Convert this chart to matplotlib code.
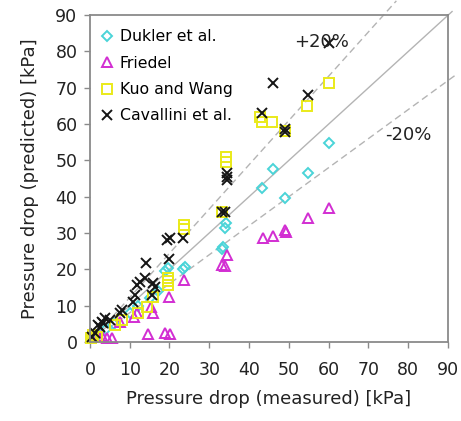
import matplotlib
matplotlib.use("Agg")
import matplotlib.pyplot as plt
import numpy as np

# Predicted vs measured pressure drop [kPa] for four correlations
dukler_x = [60.2, 54.7, 46.1, 43.3, 48.9, 34.0, 34.3, 33.4, 33.2, 23.9, 19.6, 23.5, 18.9,
            2.0, 4.0, 6.0, 10.0, 12.0, 15.0, 17.0]
dukler_y = [54.8, 46.5, 47.6, 42.4, 39.6, 31.4, 32.8, 26.1, 25.6, 20.6, 20.4, 20.0, 19.5,
            2.0, 3.5, 5.0, 8.0, 10.0, 12.0, 14.0]

friedel_x = [60.2, 54.7, 48.9, 49.3, 46.1, 43.5, 34.5, 33.2, 34.0, 23.7, 19.9, 15.4, 15.9,
             11.1, 14.6, 18.9, 20.2, 4.3, 5.5, 7.6, 11.8, 3.0, 2.0]
friedel_y = [36.9, 34.1, 30.8, 30.3, 29.2, 28.6, 24.0, 21.2, 21.0, 17.1, 12.4, 9.6, 8.0,
             6.9, 2.2, 2.5, 2.2, 1.1, 1.1, 5.5, 7.9, 1.5, 1.2]

kuo_x = [60.0, 54.6, 45.8, 43.3, 48.9, 42.8, 34.3, 34.3, 33.2, 23.7, 23.7, 19.6, 19.6, 19.6,
         15.9, 14.4, 12.1, 8.0, 6.3, 1.8, 0.8, 0.3]
kuo_y = [71.3, 65.0, 60.6, 60.6, 58.1, 62.0, 51.0, 49.5, 35.8, 32.2, 31.0, 17.6, 15.7, 16.8,
         12.4, 9.6, 8.0, 6.0, 4.7, 1.4, 1.9, 1.1]

cav_x = [60.2, 46.1, 54.7, 43.3, 49.1, 48.9, 34.5, 34.5, 34.5, 33.2, 34.0, 19.4, 20.2, 23.4,
         14.1, 19.9, 13.9, 12.6, 15.9, 16.4, 11.8, 11.3, 15.6, 10.8, 7.6, 5.0, 3.3, 2.5,
         1.3, 0.5, 8.0, 3.8, 2.0, 3.0]
cav_y = [82.3, 71.3, 68.0, 63.0, 57.8, 58.5, 46.5, 44.6, 45.5, 35.8, 35.8, 28.1, 28.6, 28.6,
         21.7, 22.8, 17.6, 16.5, 16.2, 15.1, 15.7, 12.9, 12.9, 11.0, 8.0, 6.0, 5.2, 4.1,
         2.5, 1.4, 8.8, 6.6, 4.7, 5.5]

ticks = np.arange(0, 91, 10)

fig = plt.figure(figsize=(4.61, 4.21), dpi=100)
ax = fig.add_axes([0.195, 0.188, 0.777, 0.776])

# parity line and +/-20 % bands
line_col = "#b4b4b4"
ax.plot([0, 91], [0, 91], color=line_col, lw=1.0, clip_on=False, zorder=1)
ax.plot([0, 77], [0, 77 * 1.22], color=line_col, lw=1.0, ls=(0, (5, 3)), clip_on=False, zorder=1)
ax.plot([0, 92], [0, 92 * 0.8], color=line_col, lw=1.0, ls=(0, (5, 3)), clip_on=False, zorder=1)

mk = dict(ls="none", markeredgewidth=1.4, fillstyle="none", clip_on=False)
ax.plot(dukler_x, dukler_y, marker="D", color="#4ad4d8", markersize=5.5, label="Dukler et al.", **mk)
ax.plot(friedel_x, friedel_y, marker="^", color="#d22ed2", markersize=7, label="Friedel", **mk)
ax.plot(kuo_x, kuo_y, marker="s", color="#eaea1a", markersize=6.5, label="Kuo and Wang", **mk)
ax.plot(cav_x, cav_y, marker="x", color="#151515", markersize=7, label="Cavallini et al.", **mk)

ax.text(58.2, 82.6, "+20%", fontsize=13, ha="center", va="center", color="#222222")
ax.text(80.1, 57.0, "-20%", fontsize=13, ha="center", va="center", color="#222222")

ax.set_xlim(0, 90)
ax.set_ylim(0, 90)
ax.set_xticks(ticks)
ax.set_yticks(ticks)
ax.tick_params(direction="out", length=4, width=1, color="#8a8a8a", labelsize=12.5,
               labelcolor="#222222")
ax.tick_params(axis="x", pad=10)
ax.tick_params(axis="y", pad=5)
for s in ax.spines.values():
    s.set_color("#8a8a8a")
    s.set_linewidth(1.3)

ax.set_xlabel("Pressure drop (measured) [kPa]", fontsize=13, color="#222222", labelpad=8)
ax.set_ylabel("Pressure drop (predicted) [kPa]", fontsize=13, color="#222222", labelpad=12)

ax.legend(loc="upper left", frameon=False, fontsize=11.3, handlelength=0.8,
          handletextpad=0.4, labelspacing=0.72, borderaxespad=0.3,
          bbox_to_anchor=(0.0, 0.99))

fig.savefig("out.png", dpi=100, facecolor="white")
